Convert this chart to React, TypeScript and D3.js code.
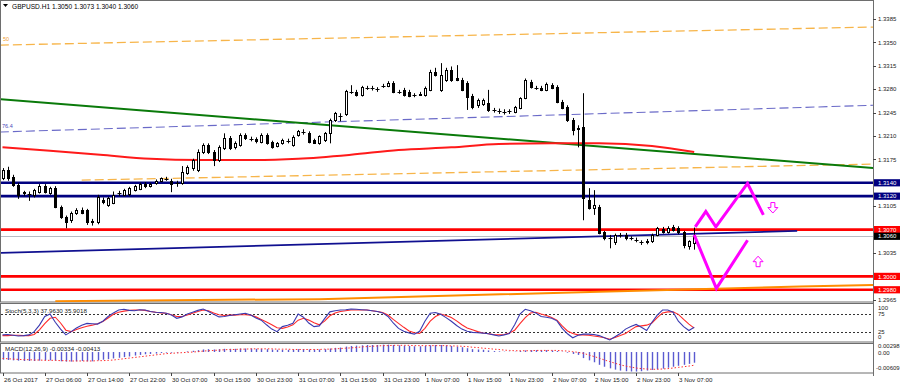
import React, { useEffect, useRef } from 'react';
import * as d3 from 'd3';

// GBPUSD H1, bars from 26 Oct 22:00 to 3 Nov 10:00
const opens = [
    1.3147, 1.3159, 1.3149, 1.3137, 1.3124, 1.3123, 1.3122, 1.3126, 1.3135, 1.3125,
    1.3132, 1.3104, 1.3089, 1.3084, 1.3095, 1.3099, 1.3099, 1.3081, 1.3081, 1.3114,
    1.3107, 1.3110, 1.3124, 1.3122, 1.3123, 1.3129, 1.3131, 1.3138, 1.3135, 1.3140,
    1.3143, 1.3146, 1.3143, 1.3139, 1.3140, 1.3155, 1.3162, 1.3159, 1.3186, 1.3196,
    1.3186, 1.3174, 1.3192, 1.3207, 1.3193, 1.3196, 1.3211, 1.3206, 1.3205, 1.3201,
    1.3211, 1.3201, 1.3195, 1.3199, 1.3202, 1.3196, 1.3211, 1.3216, 1.3214, 1.3204,
    1.3199, 1.3204, 1.3214, 1.3234, 1.3240, 1.3243, 1.3276, 1.3276, 1.3271, 1.3282,
    1.3282, 1.3280, 1.3284, 1.3285, 1.3289, 1.3276, 1.3279, 1.3276, 1.3271, 1.3271,
    1.3271, 1.3279, 1.3306, 1.3279, 1.3294, 1.3309, 1.3297, 1.3294, 1.3289, 1.3270,
    1.3256, 1.3258, 1.3259, 1.3249, 1.3248, 1.3246, 1.3246, 1.3246, 1.3252, 1.3267,
    1.3291, 1.3282, 1.3282, 1.3279, 1.3286, 1.3283, 1.3261, 1.3253, 1.3234, 1.3222,
    1.3223, 1.3114, 1.3102, 1.3104, 1.3066, 1.3058, 1.3051, 1.3062, 1.3062, 1.3057,
    1.3055, 1.3051, 1.3051, 1.3053, 1.3062, 1.3071, 1.3066, 1.3074, 1.3072, 1.3066,
    1.3046, 1.3050
];
const highs = [
    1.3162, 1.3164, 1.3152, 1.3140, 1.3128, 1.3127, 1.3131, 1.3138, 1.3138, 1.3134,
    1.3135, 1.3106, 1.3091, 1.3097, 1.3102, 1.3103, 1.3101, 1.3086, 1.3122, 1.3118,
    1.3119, 1.3127, 1.3128, 1.3131, 1.3134, 1.3137, 1.3140, 1.3141, 1.3140, 1.3145,
    1.3148, 1.3149, 1.3146, 1.3143, 1.3165, 1.3166, 1.3176, 1.3190, 1.3199, 1.3199,
    1.3189, 1.3196, 1.3214, 1.3210, 1.3202, 1.3214, 1.3214, 1.3209, 1.3208, 1.3214,
    1.3214, 1.3203, 1.3201, 1.3206, 1.3206, 1.3211, 1.3219, 1.3220, 1.3217, 1.3206,
    1.3211, 1.3216, 1.3236, 1.3246, 1.3244, 1.3279, 1.3286, 1.3279, 1.3285, 1.3285,
    1.3285, 1.3283, 1.3288, 1.3292, 1.3292, 1.3279, 1.3282, 1.3279, 1.3274, 1.3276,
    1.3284, 1.3309, 1.3312, 1.3319, 1.3312, 1.3314, 1.3316, 1.3297, 1.3292, 1.3273,
    1.3266, 1.3266, 1.3279, 1.3252, 1.3251, 1.3250, 1.3250, 1.3255, 1.3268, 1.3296,
    1.3294, 1.3285, 1.3285, 1.3290, 1.3289, 1.3286, 1.3264, 1.3256, 1.3237, 1.3226,
    1.3274, 1.3132, 1.3129, 1.3107, 1.3068, 1.3062, 1.3064, 1.3065, 1.3065, 1.3060,
    1.3058, 1.3054, 1.3056, 1.3064, 1.3074, 1.3074, 1.3075, 1.3077, 1.3075, 1.3068,
    1.3054, 1.3073
];
const lows = [
    1.3144, 1.3143, 1.3134, 1.3116, 1.3120, 1.3113, 1.3118, 1.3124, 1.3124, 1.3122,
    1.3102, 1.3086, 1.3072, 1.3080, 1.3092, 1.3093, 1.3077, 1.3076, 1.3078, 1.3108,
    1.3104, 1.3108, 1.3120, 1.3120, 1.3120, 1.3127, 1.3129, 1.3132, 1.3133, 1.3137,
    1.3141, 1.3143, 1.3126, 1.3134, 1.3137, 1.3152, 1.3158, 1.3156, 1.3183, 1.3183,
    1.3165, 1.3171, 1.3189, 1.3189, 1.3190, 1.3194, 1.3204, 1.3202, 1.3199, 1.3199,
    1.3197, 1.3191, 1.3193, 1.3197, 1.3199, 1.3194, 1.3209, 1.3212, 1.3199, 1.3198,
    1.3197, 1.3201, 1.3199, 1.3231, 1.3232, 1.3240, 1.3273, 1.3269, 1.3269, 1.3279,
    1.3278, 1.3276, 1.3282, 1.3283, 1.3274, 1.3273, 1.3269, 1.3268, 1.3268, 1.3270,
    1.3269, 1.3277, 1.3299, 1.3276, 1.3291, 1.3291, 1.3292, 1.3277, 1.3249, 1.3250,
    1.3252, 1.3255, 1.3246, 1.3245, 1.3243, 1.3242, 1.3243, 1.3244, 1.3250, 1.3265,
    1.3281, 1.3279, 1.3277, 1.3277, 1.3280, 1.3259, 1.3250, 1.3231, 1.3211, 1.3193,
    1.3084, 1.3100, 1.3092, 1.3063, 1.3054, 1.3042, 1.3047, 1.3058, 1.3054, 1.3054,
    1.3051, 1.3047, 1.3048, 1.3050, 1.3060, 1.3064, 1.3064, 1.3067, 1.3063, 1.3042,
    1.3040, 1.3040
];
const closes = [
    1.3159, 1.3147, 1.3137, 1.3122, 1.3126, 1.3122, 1.3129, 1.3135, 1.3126, 1.3132,
    1.3104, 1.3089, 1.3082, 1.3095, 1.3099, 1.3095, 1.3081, 1.3083, 1.3119, 1.3111,
    1.3117, 1.3122, 1.3125, 1.3129, 1.3132, 1.3135, 1.3138, 1.3135, 1.3138, 1.3143,
    1.3147, 1.3146, 1.3138, 1.3140, 1.3156, 1.3164, 1.3174, 1.3186, 1.3196, 1.3186,
    1.3174, 1.3193, 1.3207, 1.3192, 1.3199, 1.3211, 1.3207, 1.3205, 1.3202, 1.3211,
    1.3199, 1.3193, 1.3199, 1.3204, 1.3202, 1.3208, 1.3217, 1.3216, 1.3201, 1.3199,
    1.3210, 1.3214, 1.3234, 1.3244, 1.3240, 1.3277, 1.3276, 1.3271, 1.3283, 1.3282,
    1.3281, 1.3280, 1.3285, 1.3289, 1.3276, 1.3276, 1.3271, 1.3270, 1.3271, 1.3273,
    1.3282, 1.3306, 1.3301, 1.3301, 1.3309, 1.3294, 1.3294, 1.3279, 1.3268, 1.3253,
    1.3264, 1.3264, 1.3249, 1.3249, 1.3247, 1.3245, 1.3247, 1.3253, 1.3267, 1.3294,
    1.3283, 1.3282, 1.3279, 1.3288, 1.3282, 1.3261, 1.3252, 1.3234, 1.3219, 1.3220,
    1.3117, 1.3102, 1.3107, 1.3065, 1.3057, 1.3057, 1.3062, 1.3062, 1.3057, 1.3057,
    1.3054, 1.3050, 1.3053, 1.3062, 1.3072, 1.3066, 1.3072, 1.3069, 1.3066, 1.3046,
    1.3053, 1.3060
];

// Stoch(5,3,3)
const stoch_main = [
    17, 18, 16, 14, 15, 17, 26, 44, 68, 75, 52, 33, 17, 26, 36, 44, 49, 48, 47, 55,
    68, 78, 86, 88, 85, 84, 87, 86, 82, 80, 79, 77, 72, 63, 67, 75, 80, 85, 89, 82,
    74, 67, 68, 71, 73, 75, 77, 72, 64, 58, 45, 33, 26, 40, 44, 49, 75, 66, 50, 40,
    42, 62, 81, 84, 86, 87, 89, 88, 87, 86, 84, 82, 78, 68, 50, 35, 27, 22, 19, 27,
    55, 77, 79, 74, 65, 55, 43, 33, 27, 24, 23, 22, 20, 17, 14, 17, 21, 45, 75, 88,
    84, 78, 68, 66, 63, 56, 35, 20, 9, 16, 19, 19, 18, 15, 9, 3, 12, 21, 33, 40,
    46, 38, 29, 52, 72, 86, 86, 80, 55, 40, 29, 37.963
];
const stoch_signal = [
    15, 15, 16, 16, 15, 15, 18, 31, 48, 63, 66, 50, 30, 26, 32, 37, 41, 44, 48, 54,
    64, 74, 80, 83, 85, 86, 86, 85, 82, 80, 78, 77, 73, 68, 68, 72, 77, 82, 86, 84,
    78, 73, 71, 72, 72, 73, 73, 72, 67, 60, 53, 45, 37, 35, 39, 45, 58, 63, 58, 51,
    45, 55, 70, 78, 82, 84, 86, 86, 86, 86, 84, 82, 79, 72, 60, 49, 38, 28, 23, 21,
    35, 55, 68, 75, 71, 65, 56, 45, 36, 31, 26, 22, 20, 18, 17, 18, 22, 30, 48, 65,
    78, 80, 75, 71, 65, 58, 42, 28, 21, 17, 17, 16, 14, 12, 9, 5, 10, 15, 21, 31,
    40, 42, 44, 50, 65, 78, 81, 81, 74, 60, 47, 35.9018
];
const stoch_levels = [75, 25];

// MACD(12,26,9)
const macd_main = [
    -0.0024, -0.0025, -0.0026, -0.0027, -0.0028, -0.0028, -0.0028, -0.0027, -0.0026, -0.0026,
    -0.0027, -0.0029, -0.0030, -0.0030, -0.0029, -0.0028, -0.0029, -0.0029, -0.0026, -0.0024,
    -0.0022, -0.0020, -0.0018, -0.0016, -0.0014, -0.0011, -0.0009, -0.0007, -0.0006, -0.0005,
    -0.0003, -0.0002, -0.0002, -0.0002, 0.0000, 0.0002, 0.0004, 0.0006, 0.0008, 0.0009,
    0.0008, 0.0009, 0.0010, 0.0010, 0.0010, 0.0011, 0.0011, 0.0011, 0.0010, 0.0010,
    0.0009, 0.0008, 0.0007, 0.0007, 0.0007, 0.0008, 0.0009, 0.0009, 0.0008, 0.0008,
    0.0008, 0.0009, 0.0011, 0.0013, 0.0014, 0.0017, 0.0019, 0.0020, 0.0021, 0.0022,
    0.0022, 0.0022, 0.0023, 0.0023, 0.0022, 0.0021, 0.0020, 0.0019, 0.0018, 0.0018,
    0.0019, 0.0021, 0.0022, 0.0022, 0.0021, 0.0019, 0.0017, 0.0015, 0.0012, 0.0009,
    0.0008, 0.0007, 0.0005, 0.0003, 0.0002, 0.0001, 0.0001, 0.0001, 0.0003, 0.0005,
    0.0006, 0.0006, 0.0006, 0.0006, 0.0005, 0.0003, 0.0001, -0.0002, -0.0006, -0.0009,
    -0.0019, -0.0026, -0.0032, -0.0040, -0.0046, -0.0051, -0.0055, -0.0058, -0.0060, -0.00609,
    -0.0061, -0.0060, -0.0058, -0.0056, -0.0054, -0.0052, -0.0049, -0.0046, -0.0043, -0.0040,
    -0.0037, -0.00334
];
const macd_signal = [
    -0.0020, -0.0021, -0.0022, -0.0023, -0.0024, -0.0024, -0.0025, -0.0025, -0.0026, -0.0026,
    -0.0026, -0.0027, -0.0027, -0.0028, -0.0028, -0.0028, -0.0028, -0.0028, -0.0027, -0.0027,
    -0.0026, -0.0025, -0.0023, -0.0021, -0.0019, -0.0017, -0.0015, -0.0013, -0.0011, -0.0009,
    -0.0007, -0.0005, -0.0004, -0.0003, -0.0002, -0.0001, 0.0000, 0.0001, 0.0003, 0.0004,
    0.0005, 0.0006, 0.0007, 0.0008, 0.0008, 0.0009, 0.0009, 0.0010, 0.0010, 0.0010,
    0.0010, 0.0010, 0.0009, 0.0009, 0.0009, 0.0008, 0.0008, 0.0008, 0.0008, 0.0008,
    0.0008, 0.0009, 0.0009, 0.0010, 0.0011, 0.0012, 0.0013, 0.0014, 0.0016, 0.0017,
    0.0018, 0.0019, 0.0020, 0.0020, 0.0021, 0.0021, 0.0021, 0.0021, 0.0020, 0.0020,
    0.0020, 0.0020, 0.0020, 0.0020, 0.0020, 0.0019, 0.0019, 0.0018, 0.0017, 0.0015,
    0.0014, 0.0012, 0.0011, 0.0009, 0.0008, 0.0006, 0.0005, 0.0004, 0.0004, 0.0004,
    0.0004, 0.0005, 0.0005, 0.0005, 0.0005, 0.0005, 0.0004, 0.0003, 0.0001, -0.0001,
    -0.0004, -0.0009, -0.0014, -0.0019, -0.0025, -0.0030, -0.0035, -0.0040, -0.0044, -0.0047,
    -0.0050, -0.0052, -0.0053, -0.0054, -0.0054, -0.0053, -0.0052, -0.0050, -0.0048, -0.0046,
    -0.0044, -0.00413
];

// one time label every 8 bars
const time_labels = [
    '26 Oct 2017', '27 Oct 06:00', '27 Oct 14:00', '27 Oct 22:00', '30 Oct 07:00', '30 Oct 15:00',
    '30 Oct 23:00', '31 Oct 07:00', '31 Oct 15:00', '31 Oct 23:00', '1 Nov 07:00', '1 Nov 15:00',
    '1 Nov 23:00', '2 Nov 07:00', '2 Nov 15:00', '2 Nov 23:00', '3 Nov 07:00'
];
const price_ticks = [1.3385, 1.3350, 1.3315, 1.3280, 1.3245, 1.3210, 1.3175, 1.3105, 1.3035, 1.2965];

// levels
const blue_levels = [1.3140, 1.3120];
const red_levels = [1.3070, 1.3000, 1.2980];
const bid_price = 1.3060;

// drawn objects, [bar index, price]
const fibo_50 = [[-0.5, 1.3346], [165, 1.3373]];
const fibo_764 = [[-0.5, 1.3216], [165, 1.3256]];
const fibo_low = [[15, 1.3144], [165, 1.3168]];
const green_trend = [[-0.5, 1.3265], [165, 1.3162]];
const navy_trend = [[-0.5, 1.3035], [150.5, 1.3068]];
const orange_trend = [[10, 1.2963], [60, 1.2966], [113, 1.2977], [151, 1.2985], [165, 1.2987]];
const ma_points = [
    [0, 1.3193], [9, 1.3188], [18.5, 1.3182], [28, 1.3176], [37.4, 1.3174], [47, 1.3174],
    [56, 1.3176], [66, 1.3182], [75, 1.3189], [85, 1.3193], [94, 1.3198], [104, 1.3199],
    [113, 1.3199], [123, 1.3195], [131, 1.3186]
];
const zigzag_up = [[131.2, 1.3074], [133.2, 1.3097], [135.1, 1.3074], [141.1, 1.3139], [144.1, 1.3092]];
const zigzag_down = [[131, 1.3062], [135.2, 1.2982], [141.1, 1.3054]];
const arrow_down = [145.9, 1.3103];
const arrow_up = [143.1, 1.3022];

const FONT = 'Liberation Sans, Arial, sans-serif';

const App = () => {
    const ref = useRef(null);

    // layout
    const width = 900;
    const height = 387;
    const plot_left = 1;
    const plot_right = 873;
    const main_top = 1;
    const main_bottom = 302;
    const stoch_top = 304;
    const stoch_bottom = 342;
    const macd_top = 344;
    const macd_bottom = 373;

    useEffect(() => {
        const svg = d3.select(ref.current);
        svg.selectAll('*').remove();

        const x = d3.scaleLinear().domain([0, 131]).range([2.5, 694.2]);
        const y = d3.scaleLinear().domain([1.2965, 1.3385]).range([299.8, 19]);
        const yStoch = d3.scaleLinear().domain([0, 100]).range([341, 305]);
        const yMacd = d3.scaleLinear().domain([-0.00609, 0.00298]).range([371.5, 342.5]);

        const defs = svg.append('defs');
        const clip = (id, top, bottom) => defs.append('clipPath').attr('id', id)
            .append('rect').attr('x', plot_left).attr('y', top)
            .attr('width', plot_right - plot_left).attr('height', bottom - top);
        clip('clip-main', main_top, main_bottom);
        clip('clip-stoch', stoch_top, stoch_bottom);
        clip('clip-macd', macd_top, macd_bottom);

        svg.append('rect').attr('width', width).attr('height', height).attr('fill', '#ffffff');

        // panel frames
        [[main_top, main_bottom], [stoch_top, stoch_bottom], [macd_top, macd_bottom]].forEach(([t, b]) => {
            svg.append('rect')
                .attr('x', 0.5).attr('y', t - 0.5)
                .attr('width', plot_right)
                .attr('height', b - t + 0.5)
                .attr('fill', 'none')
                .attr('stroke', '#6e6e6e')
                .attr('stroke-width', 1);
        });

        const main = svg.append('g').attr('clip-path', 'url(#clip-main)');
        const pline = d3.line().x(d => x(d[0])).y(d => y(d[1]));

        const drawLine = (pts, color, w, dash) => {
            const p = main.append('path').attr('d', pline(pts))
                .attr('fill', 'none').attr('stroke', color).attr('stroke-width', w);
            if (dash) p.attr('stroke-dasharray', dash);
        };

        // fibo channel lines
        drawLine(fibo_50, '#f7b54a', 1.3, '9,4');
        drawLine(fibo_764, '#6a6ac8', 1.1, '9,4');
        drawLine(fibo_low, '#f7b54a', 1.3, '9,4');
        main.append('text').attr('x', 3).attr('y', 41).attr('font-family', FONT)
            .attr('font-size', 5.5).attr('fill', '#f0a030').text('50');
        main.append('text').attr('x', 2).attr('y', 127.5).attr('font-family', FONT)
            .attr('font-size', 5.5).attr('fill', '#4a4ab8').text('76.4');

        // trend lines and MA
        drawLine(green_trend, '#0a7a0a', 2);
        main.append('path')
            .attr('d', d3.line().x(d => x(d[0])).y(d => y(d[1])).curve(d3.curveMonotoneX)(ma_points))
            .attr('fill', 'none').attr('stroke', '#ff1a1a').attr('stroke-width', 2);

        // horizontal levels
        blue_levels.forEach(p => {
            main.append('line').attr('x1', plot_left).attr('x2', plot_right)
                .attr('y1', y(p)).attr('y2', y(p))
                .attr('stroke', '#000080').attr('stroke-width', 2.6);
        });
        red_levels.forEach(p => {
            main.append('line').attr('x1', plot_left).attr('x2', plot_right)
                .attr('y1', y(p)).attr('y2', y(p))
                .attr('stroke', '#ff0000').attr('stroke-width', 2.6);
        });
        main.append('line').attr('x1', plot_left).attr('x2', plot_right)
            .attr('y1', Math.round(y(bid_price)) + 0.5).attr('y2', Math.round(y(bid_price)) + 0.5)
            .attr('stroke', '#b8bcc4').attr('stroke-width', 1);
        drawLine(navy_trend, '#101090', 1.8);
        main.append('path')
            .attr('d', d3.line().x(d => x(d[0])).y(d => y(d[1]))(orange_trend))
            .attr('fill', 'none').attr('stroke', '#ff8c00').attr('stroke-width', 2);

        // candles
        const bars = opens.map((o, i) => ({ i, o, h: highs[i], l: lows[i], c: closes[i] }));
        const candle = main.selectAll('.candle').data(bars).enter().append('g').attr('class', 'candle');
        candle.append('line')
            .attr('x1', d => Math.round(x(d.i)) + 0.5).attr('x2', d => Math.round(x(d.i)) + 0.5)
            .attr('y1', d => y(d.h)).attr('y2', d => y(d.l))
            .attr('stroke', '#000').attr('stroke-width', 1);
        candle.each(function (d) {
            const g = d3.select(this);
            const cx = Math.round(x(d.i)) + 0.5;
            const top = y(Math.max(d.o, d.c));
            const bot = y(Math.min(d.o, d.c));
            if (bot - top < 1.2) {
                g.append('line').attr('x1', cx - 2).attr('x2', cx + 2)
                    .attr('y1', Math.round(top) + 0.5).attr('y2', Math.round(top) + 0.5)
                    .attr('stroke', '#000');
            } else {
                g.append('rect')
                    .attr('x', cx - 1).attr('y', Math.round(top) + 0.5)
                    .attr('width', 2).attr('height', Math.max(1, Math.round(bot - top)))
                    .attr('fill', d.c >= d.o ? '#ffffff' : '#000000')
                    .attr('stroke', '#000').attr('stroke-width', 1);
            }
        });

        // forecast zigzag
        [zigzag_up, zigzag_down].forEach(pts => {
            main.append('path').attr('d', pline(pts))
                .attr('fill', 'none').attr('stroke', '#ff00ff').attr('stroke-width', 3)
                .attr('stroke-linejoin', 'miter');
        });
        const arrow = (ax, ay, dir) => {
            const s = dir; // 1 = down, -1 = up
            const pts = [
                [ax - 2, ay - 5 * s], [ax + 2, ay - 5 * s], [ax + 2, ay], [ax + 5, ay],
                [ax, ay + 5.5 * s], [ax - 5, ay], [ax - 2, ay]
            ];
            main.append('polygon').attr('points', pts.map(p => p.join(',')).join(' '))
                .attr('fill', '#ffffff').attr('stroke', '#ff00ff').attr('stroke-width', 1);
        };
        arrow(x(arrow_down[0]), y(arrow_down[1]), 1);
        arrow(x(arrow_up[0]), y(arrow_up[1]), -1);

        // header
        svg.append('path').attr('d', 'M3,4 L8,4 L5.5,7 Z').attr('fill', '#000');
        svg.append('text').attr('x', 12).attr('y', 9).attr('font-family', FONT)
            .attr('font-size', 6.6).attr('fill', '#000')
            .text('GBPUSD.H1  1.3050 1.3073 1.3040 1.3060');

        // stochastic
        const stoch = svg.append('g').attr('clip-path', 'url(#clip-stoch)');
        stoch_levels.forEach(v => {
            stoch.append('line').attr('x1', plot_left).attr('x2', plot_right)
                .attr('y1', Math.round(yStoch(v)) + 0.5).attr('y2', Math.round(yStoch(v)) + 0.5)
                .attr('stroke', '#333').attr('stroke-dasharray', '2,2');
        });
        const sline = d3.line().x((d, i) => x(i)).y(d => yStoch(d));
        stoch.append('path').attr('d', sline(stoch_signal)).attr('fill', 'none')
            .attr('stroke', '#ff2a2a').attr('stroke-width', 1.1);
        stoch.append('path').attr('d', sline(stoch_main)).attr('fill', 'none')
            .attr('stroke', '#3a3ab0').attr('stroke-width', 1.1);
        stoch.append('text').attr('x', 5).attr('y', 312.5).attr('font-family', FONT)
            .attr('font-size', 6.2).attr('fill', '#222')
            .text('Stoch(5,3,3) 37.9630 35.9018');

        // MACD
        const macd = svg.append('g').attr('clip-path', 'url(#clip-macd)');
        macd.selectAll('.hist').data(macd_main).enter().append('line')
            .attr('class', 'hist')
            .attr('x1', (d, i) => Math.round(x(i)) + 0.5).attr('x2', (d, i) => Math.round(x(i)) + 0.5)
            .attr('y1', yMacd(0)).attr('y2', d => yMacd(d))
            .attr('stroke', '#5a5ad0').attr('stroke-width', 1.4);
        macd.append('path').attr('d', d3.line().x((d, i) => x(i)).y(d => yMacd(d))(macd_signal))
            .attr('fill', 'none').attr('stroke', '#ff3030').attr('stroke-width', 1)
            .attr('stroke-dasharray', '1.5,2');
        macd.append('text').attr('x', 5).attr('y', 350.5).attr('font-family', FONT)
            .attr('font-size', 6.2).attr('fill', '#222')
            .text('MACD(12,26,9) -0.00334 -0.00413');

        // right axis
        svg.append('line').attr('x1', plot_right + 0.5).attr('x2', plot_right + 0.5)
            .attr('y1', 0).attr('y2', macd_bottom + 3)
            .attr('stroke', '#6e6e6e');
        const axisText = (txt, yy, xx = 878) => svg.append('text')
            .attr('x', xx).attr('y', yy).attr('dy', '0.35em')
            .attr('font-family', FONT).attr('font-size', 6).attr('fill', '#222').text(txt);
        price_ticks.forEach(p => {
            svg.append('line').attr('x1', plot_right).attr('x2', plot_right + 3)
                .attr('y1', Math.round(y(p)) + 0.5).attr('y2', Math.round(y(p)) + 0.5).attr('stroke', '#444');
            axisText(p.toFixed(4), y(p));
        });
        const boxes = [
            ...blue_levels.map(p => ({ p, fill: '#000080' })),
            ...red_levels.map(p => ({ p, fill: '#ff0000' })),
            { p: bid_price, fill: '#000000' }
        ];
        boxes.forEach(b => {
            svg.append('rect').attr('x', plot_right + 1).attr('y', y(b.p) - 3.6)
                .attr('width', width - plot_right - 1).attr('height', 7.2).attr('fill', b.fill);
            svg.append('text').attr('x', 878).attr('y', y(b.p)).attr('dy', '0.35em')
                .attr('font-family', FONT).attr('font-size', 6).attr('fill', '#fff')
                .text(b.p.toFixed(4));
        });
        axisText('100', 307.6);
        axisText('75', 313.8);
        axisText('25', 331.6);
        axisText('0', 337);
        axisText('0.00298', 346.2);
        axisText('0.00', 352.4);
        axisText('-0.00609', 368.3, 876);

        // time axis
        time_labels.forEach((t, k) => {
            const tx = Math.round(x(k * 8)) + 0.5;
            svg.append('line').attr('x1', tx).attr('x2', tx)
                .attr('y1', macd_bottom).attr('y2', macd_bottom + 3).attr('stroke', '#444');
            svg.append('text').attr('x', tx + 0.5).attr('y', 382)
                .attr('font-family', FONT).attr('font-size', 6.2).attr('fill', '#222').text(t);
        });
    }, []);

    return (
        <svg
            ref={ref}
            width={900}
            height={387}
            style={{ position: 'absolute', left: 0, top: 0, display: 'block' }}
        />
    );
};

export default App;
